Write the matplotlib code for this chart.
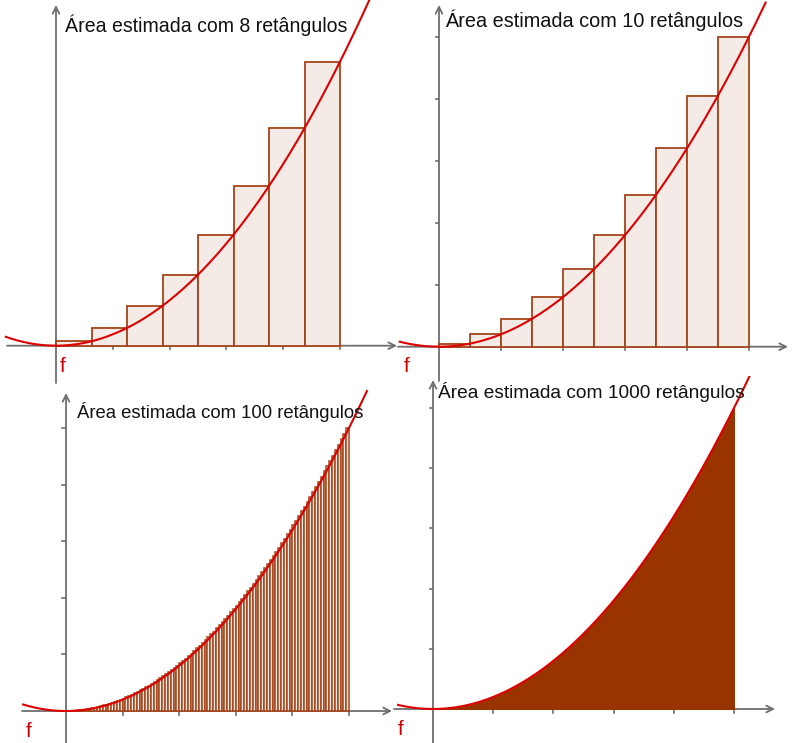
import numpy as np
import matplotlib
matplotlib.use("Agg")
import matplotlib.pyplot as plt

# f(x) = x^2 on [0, 1], right-endpoint rectangles
a = 0.0
b = 1.0
counts = [8, 10, 100, 1000]
titles = ["Área estimada com 8 retângulos",
          "Área estimada com 10 retângulos",
          "Área estimada com 100 retângulos",
          "Área estimada com 1000 retângulos"]
tick_step = 0.2


def f(x):
    return x ** 2


W, H = 793, 743
fig = plt.figure(figsize=(W / 100, H / 100), dpi=100)

# panel layout in pixels: left, right, top, bottom, origin x, origin y, px per unit
panels = [
    dict(l=0, r=397, t=0, b=378, ox=56, oy=345.7, s=284, axl=7, axr=397, axt=5,
         curve=(-0.18, 1.2), yticks=False, title=(65, 31.5), fs=14.05, flab=(60, 372)),
    dict(l=397, r=793, t=0, b=376, ox=439, oy=346.7, s=310, axl=398, axr=788, axt=5,
         curve=(-0.13, 1.055), yticks=True, title=(445, 27), fs=14.3, flab=(404, 372)),
    dict(l=0, r=397, t=378, b=743, ox=66, oy=711, s=283, axl=22, axr=392, axt=393,
         curve=(-0.155, 1.065), yticks=True, title=(77, 418), fs=13.3, flab=(26, 737)),
    dict(l=397, r=793, t=376, b=743, ox=433, oy=709, s=301, axl=394, axr=775, axt=380,
         curve=(-0.13, 1.053), yticks=True, title=(438, 398), fs=13.8, flab=(398, 735)),
]

axis_col = "#6e6e6e"
edge_col = "#a5441a"
fill_col = "#f5ebe6"
curve_col = "#dd0000"

for p, n, title in zip(panels, counts, titles):
    ax = fig.add_axes([p["l"] / W, 1 - p["b"] / H, (p["r"] - p["l"]) / W, (p["b"] - p["t"]) / H])
    ax.set_xlim((p["l"] - p["ox"]) / p["s"], (p["r"] - p["ox"]) / p["s"])
    ax.set_ylim((p["oy"] - p["b"]) / p["s"], (p["oy"] - p["t"]) / p["s"])
    ax.axis("off")

    def dx(px):
        return (px - p["ox"]) / p["s"]

    def dy(py):
        return (p["oy"] - py) / p["s"]

    # axes with arrows
    ax.annotate("", xy=(dx(p["axr"]), 0), xytext=(dx(p["axl"]), 0),
                arrowprops=dict(arrowstyle="->", color=axis_col, lw=1.3,
                                shrinkA=0, shrinkB=0, mutation_scale=12), zorder=1)
    ax.annotate("", xy=(0, dy(p["axt"])), xytext=(0, dy(p["b"] + 5)),
                arrowprops=dict(arrowstyle="->", color=axis_col, lw=1.3,
                                shrinkA=0, shrinkB=0, mutation_scale=12), zorder=1)
    tk = 3.5 / p["s"]
    for t in np.arange(tick_step, b + 1e-9, tick_step):
        ax.plot([t, t], [0, -tk], color=axis_col, lw=1.2, zorder=1)
        if p["yticks"]:
            ax.plot([-tk, 0], [t, t], color=axis_col, lw=1.2, zorder=1)

    # rectangles (right endpoints)
    w = (b - a) / n
    lefts = a + w * np.arange(n)
    heights = f(lefts + w)
    if n >= 1000:
        ax.bar(lefts, heights, width=w, align="edge", color="#993300",
               edgecolor="#993300", lw=0.6, zorder=2)
    else:
        ax.bar(lefts, heights, width=w, align="edge", facecolor=fill_col,
               edgecolor=edge_col, lw=1.3 if n < 50 else 1.1, zorder=2)

    xs = np.linspace(p["curve"][0], p["curve"][1], 400)
    ax.plot(xs, f(xs), color=curve_col, lw=1.5, zorder=3, solid_capstyle="butt")

    ax.text(dx(p["title"][0]), dy(p["title"][1]), title, fontsize=p["fs"],
            family="Liberation Sans", color="#111111", va="baseline", ha="left", zorder=4)
    ax.text(dx(p["flab"][0]), dy(p["flab"][1]), "f", fontsize=15,
            family="Liberation Sans", color="#cc0000", va="baseline", ha="left", zorder=4)

fig.savefig("out.png", dpi=100)
